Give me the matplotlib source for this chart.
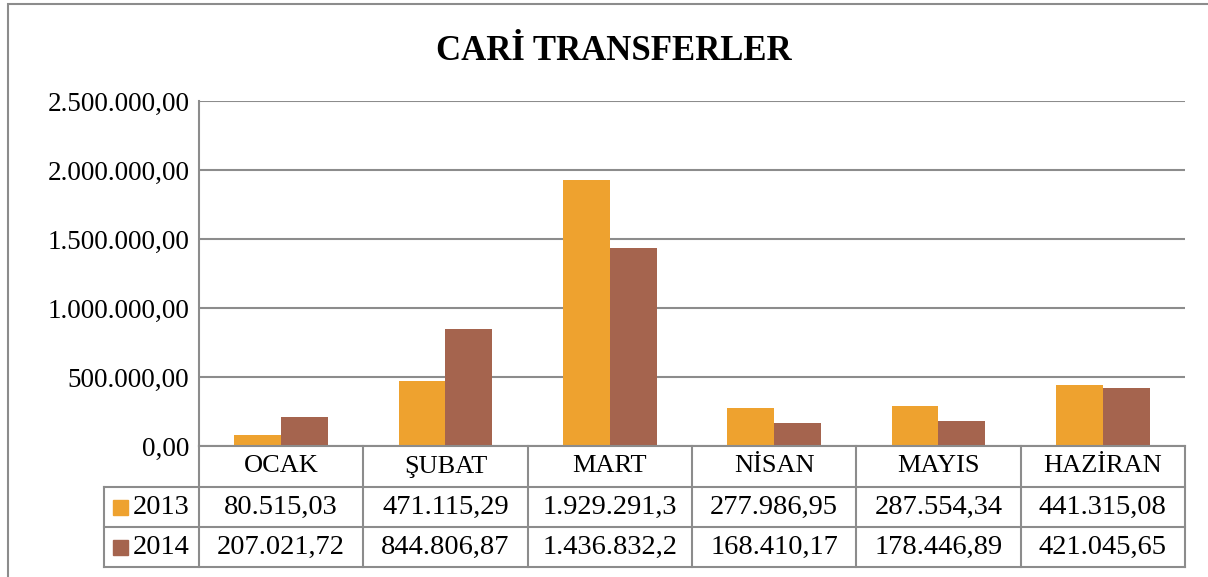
import matplotlib
matplotlib.use("Agg")
import matplotlib.pyplot as plt
from matplotlib.patches import Rectangle
from matplotlib.lines import Line2D

categories = ["OCAK", "ŞUBAT", "MART", "NİSAN", "MAYIS", "HAZİRAN"]
series_names = ["2013", "2014"]
values_2013 = [80515.03, 471115.29, 1929291.3, 277986.95, 287554.34, 441315.08]
values_2014 = [207021.72, 844806.87, 1436832.2, 168410.17, 178446.89, 421045.65]
labels_2013 = ["80.515,03", "471.115,29", "1.929.291,3", "277.986,95", "287.554,34", "441.315,08"]
labels_2014 = ["207.021,72", "844.806,87", "1.436.832,2", "168.410,17", "178.446,89", "421.045,65"]
y_ticks = [0, 500000, 1000000, 1500000, 2000000, 2500000]
y_tick_labels = ["0,00", "500.000,00", "1.000.000,00", "1.500.000,00", "2.000.000,00", "2.500.000,00"]
title = "CARİ TRANSFERLER"

colors = ["#EEA22F", "#A5644E"]
grid_col = "#8C8C8C"
FONT = "Liberation Serif"
W, H = 1208, 577

fig = plt.figure(figsize=(W / 100, H / 100), dpi=100)
fig.patch.set_facecolor("white")

def fx(px):
    return px / W

def fy(py):
    return 1 - py / H

# outer border
fig.add_artist(Rectangle((fx(8), fy(700)), fx(1300), fy(4) - fy(700),
                         transform=fig.transFigure, fill=False,
                         edgecolor="#8C8C8C", lw=1.5))

left, right, top, bottom = 199, 1185, 101, 446
ax = fig.add_axes([fx(left), fy(bottom), fx(right) - fx(left), fy(top) - fy(bottom)])
n = len(categories)
x = list(range(n))
bw = 0.286
ax.bar([i - bw / 2 for i in x], values_2013, width=bw, color=colors[0], zorder=3)
ax.bar([i + bw / 2 for i in x], values_2014, width=bw, color=colors[1], zorder=3)
ax.set_xlim(-0.5, n - 0.5)
ax.set_ylim(0, 2500000)
ax.set_yticks(y_ticks)
ax.set_yticklabels(y_tick_labels, fontfamily=FONT, fontsize=19.5)
ax.tick_params(axis="y", length=0, pad=7)
ax.set_xticks([])
for s in ["top", "right", "bottom"]:
    ax.spines[s].set_visible(False)
ax.spines["left"].set_color(grid_col)
ax.spines["left"].set_linewidth(1.5)
ax.yaxis.grid(True, color=grid_col, lw=1.5, zorder=0)
ax.set_axisbelow(True)

fig.text(0.508, fy(51), title, ha="center", va="center", fontfamily=FONT,
         fontsize=25, fontweight="bold")

# data table
row_y = [446, 487, 527, 567]
col_x = [left + (right - left) * i / n for i in range(n + 1)]
leg_left = 104

def hline(y, x0, x1):
    fig.add_artist(Line2D([fx(x0), fx(x1)], [fy(y), fy(y)], transform=fig.transFigure,
                          color=grid_col, lw=1.5))

def vline(x0, y0, y1):
    fig.add_artist(Line2D([fx(x0), fx(x0)], [fy(y0), fy(y1)], transform=fig.transFigure,
                          color=grid_col, lw=1.5))

hline(row_y[0], left, right)
for yy in row_y[1:]:
    hline(yy, leg_left, right)
for cx in col_x:
    vline(cx, row_y[0], row_y[3])
vline(leg_left, row_y[1], row_y[3])

for i, cat in enumerate(categories):
    cx = (col_x[i] + col_x[i + 1]) / 2
    fig.text(fx(cx), fy((row_y[0] + row_y[1]) / 2), cat, ha="center", va="center",
             fontfamily=FONT, fontsize=19)
    fig.text(fx(cx), fy((row_y[1] + row_y[2]) / 2), labels_2013[i], ha="center", va="center",
             fontfamily=FONT, fontsize=20.5)
    fig.text(fx(cx), fy((row_y[2] + row_y[3]) / 2), labels_2014[i], ha="center", va="center",
             fontfamily=FONT, fontsize=20.5)

for r, (name, col) in enumerate(zip(series_names, colors)):
    yc = (row_y[r + 1] + row_y[r + 2]) / 2
    fig.add_artist(Rectangle((fx(113), fy(yc + 7.5)), fx(15), fy(yc - 7.5) - fy(yc + 7.5),
                             transform=fig.transFigure, color=col))
    fig.text(fx(133), fy(yc), name, ha="left", va="center", fontfamily=FONT, fontsize=20.5)

fig.savefig("out.png", dpi=100)
